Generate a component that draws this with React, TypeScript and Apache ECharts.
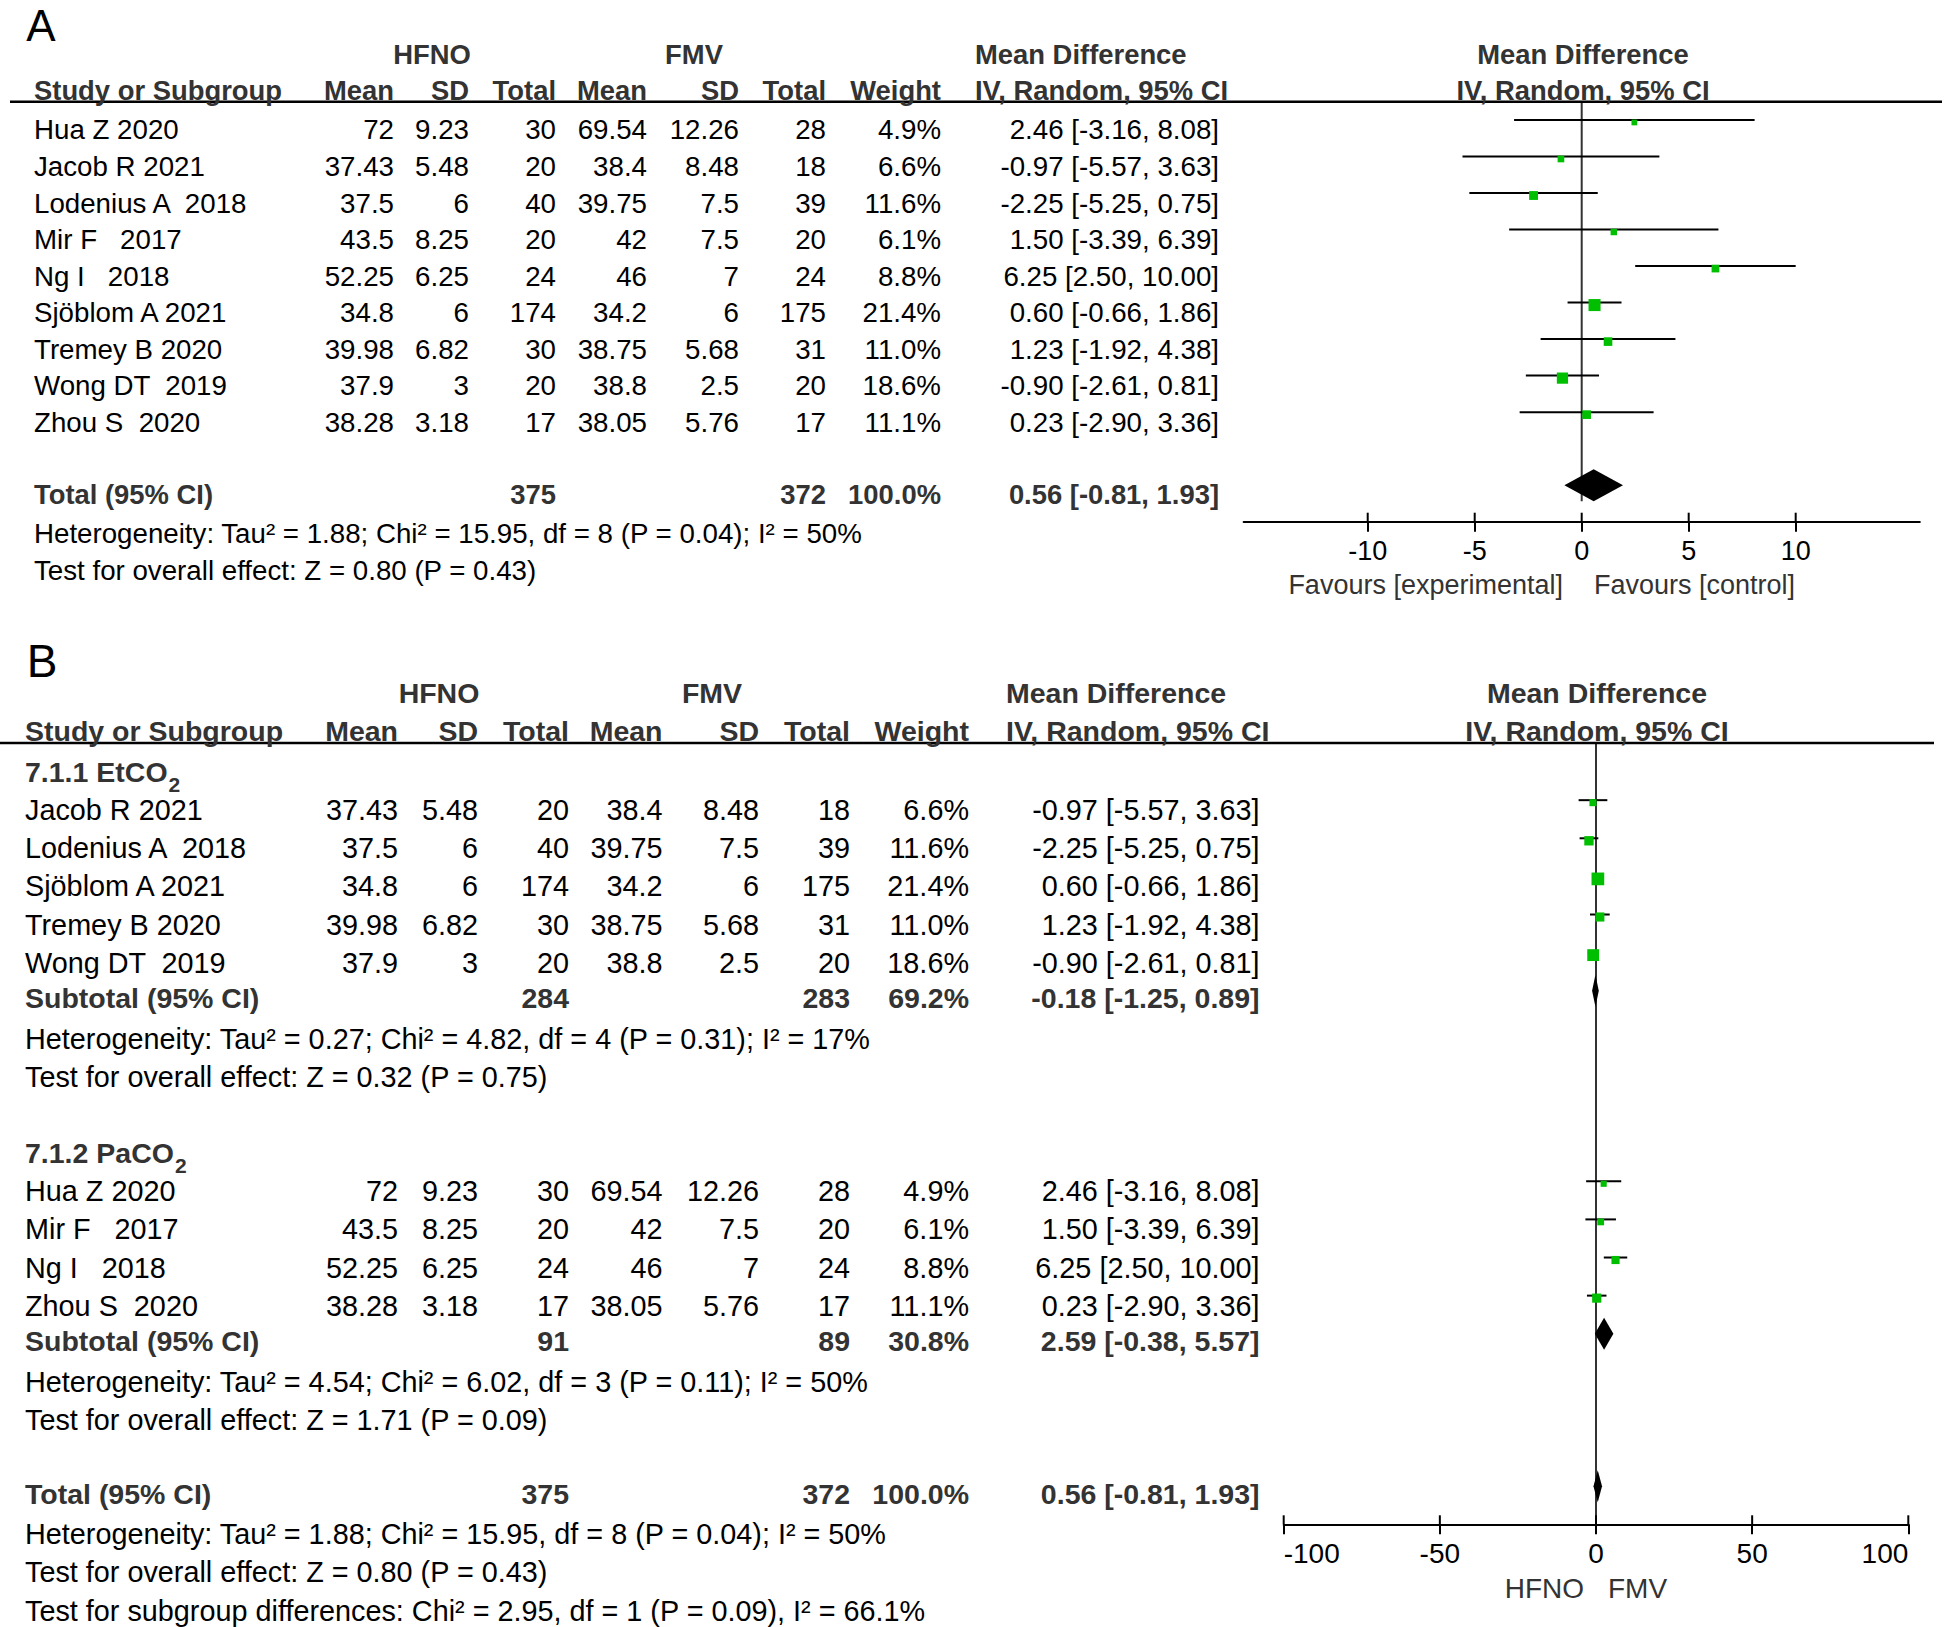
import React, { useEffect, useRef } from 'react';
import * as echarts from 'echarts';

// ---------------- DATA ----------------
const studyNames = ['Hua Z 2020', 'Jacob R 2021', 'Lodenius A  2018', 'Mir F   2017', 'Ng I   2018', 'Sjöblom A 2021', 'Tremey B 2020', 'Wong DT  2019', 'Zhou S  2020'];
const hfnoMean = [72, 37.43, 37.5, 43.5, 52.25, 34.8, 39.98, 37.9, 38.28];
const hfnoSD = [9.23, 5.48, 6, 8.25, 6.25, 6, 6.82, 3, 3.18];
const hfnoN = [30, 20, 40, 20, 24, 174, 30, 20, 17];
const fmvMean = [69.54, 38.4, 39.75, 42, 46, 34.2, 38.75, 38.8, 38.05];
const fmvSD = [12.26, 8.48, 7.5, 7.5, 7, 6, 5.68, 2.5, 5.76];
const fmvN = [28, 18, 39, 20, 24, 175, 31, 20, 17];
const weights = [4.9, 6.6, 11.6, 6.1, 8.8, 21.4, 11.0, 18.6, 11.1];
const mdValues = [2.46, -0.97, -2.25, 1.5, 6.25, 0.6, 1.23, -0.9, 0.23];
const ciLow = [-3.16, -5.57, -5.25, -3.39, 2.5, -0.66, -1.92, -2.61, -2.9];
const ciHigh = [8.08, 3.63, 0.75, 6.39, 10.0, 1.86, 4.38, 0.81, 3.36];

// subgroups (indices into the study arrays)
const etco2Order = [1, 2, 5, 6, 7];
const paco2Order = [0, 3, 4, 8];

// summary rows: [EtCO2 subtotal, PaCO2 subtotal, overall total]
const summaryNames = ['Subtotal (95% CI)', 'Subtotal (95% CI)', 'Total (95% CI)'];
const summaryHfnoN = [284, 91, 375];
const summaryFmvN = [283, 89, 372];
const summaryWeight = [69.2, 30.8, 100.0];
const summaryMd = [-0.18, 2.59, 0.56];
const summaryLo = [-1.25, -0.38, -0.81];
const summaryHi = [0.89, 5.57, 1.93];

const hetEt = 'Heterogeneity: Tau² = 0.27; Chi² = 4.82, df = 4 (P = 0.31); I² = 17%';
const testEt = 'Test for overall effect: Z = 0.32 (P = 0.75)';
const hetPa = 'Heterogeneity: Tau² = 4.54; Chi² = 6.02, df = 3 (P = 0.11); I² = 50%';
const testPa = 'Test for overall effect: Z = 1.71 (P = 0.09)';
const hetAll = 'Heterogeneity: Tau² = 1.88; Chi² = 15.95, df = 8 (P = 0.04); I² = 50%';
const testAll = 'Test for overall effect: Z = 0.80 (P = 0.43)';
const testSub = 'Test for subgroup differences: Chi² = 2.95, df = 1 (P = 0.09), I² = 66.1%';

const ticksA = [-10, -5, 0, 5, 10];
const ticksB = [-100, -50, 0, 50, 100];

// ---------------- LAYOUT ----------------
const FONT = '"Liberation Sans", Arial, sans-serif';
const GA = { left: 1243.6, top: 101.7, width: 676.2, height: 420, xMin: -15.8, xMax: 15.8, yMin: -0.5, yMax: 11 };
const GB = { left: 1283.7, top: 743, width: 624.6, height: 781.3, xMin: -100, xMax: 100, yMin: -1.5, yMax: 19 };
const rowY = (g: any, r: number) => g.top + ((r - g.yMin) * g.height) / (g.yMax - g.yMin);
const DIAMOND_HALF = 16;

const SIZE_A = 27.7;
const BOLD_A = 27.4;
const SIZE_B = 28.8;
const BOLD_B = 28.5;
const SUB_SIZE = 21;

const colsA = { name: 34, hMean: 394, hSD: 469, hN: 556, fMean: 647, fSD: 739, fN: 826, weight: 941, ci: 1219, md: 975, plotC: 1583 };
const colsB = { name: 25, hMean: 398, hSD: 478, hN: 569, fMean: 662.5, fSD: 759, fN: 850, weight: 969, ci: 1259.5, md: 1006, plotC: 1597 };

const fmtCI = (m: number, l: number, h: number) => `${m.toFixed(2)} [${l.toFixed(2)}, ${h.toFixed(2)}]`;

function T(text: string, x: number, y: number, size: number, opts: any = {}) {
  const align = opts.align || 'left';
  return {
    type: 'text',
    x,
    y,
    silent: true,
    z: 10,
    style: {
      text,
      fill: opts.fill || '#000',
      fontSize: size,
      fontFamily: FONT,
      fontWeight: opts.bold ? 'bold' : 'normal',
      align,
      verticalAlign: 'middle',
      textAlign: align,
      textVerticalAlign: 'middle',
    },
  };
}

function studyTexts(out: any[], c: any, i: number, y: number, size: number) {
  out.push(T(studyNames[i], c.name, y, size));
  out.push(T(String(hfnoMean[i]), c.hMean, y, size, { align: 'right' }));
  out.push(T(String(hfnoSD[i]), c.hSD, y, size, { align: 'right' }));
  out.push(T(String(hfnoN[i]), c.hN, y, size, { align: 'right' }));
  out.push(T(String(fmvMean[i]), c.fMean, y, size, { align: 'right' }));
  out.push(T(String(fmvSD[i]), c.fSD, y, size, { align: 'right' }));
  out.push(T(String(fmvN[i]), c.fN, y, size, { align: 'right' }));
  out.push(T(weights[i].toFixed(1) + '%', c.weight, y, size, { align: 'right' }));
  out.push(T(fmtCI(mdValues[i], ciLow[i], ciHigh[i]), c.ci, y, size, { align: 'right' }));
}

function summaryTexts(out: any[], c: any, k: number, y: number, size: number) {
  const o = { bold: true, fill: '#333' };
  out.push(T(summaryNames[k], c.name, y, size, o));
  out.push(T(String(summaryHfnoN[k]), c.hN, y, size, { ...o, align: 'right' }));
  out.push(T(String(summaryFmvN[k]), c.fN, y, size, { ...o, align: 'right' }));
  out.push(T(summaryWeight[k].toFixed(1) + '%', c.weight, y, size, { ...o, align: 'right' }));
  out.push(T(fmtCI(summaryMd[k], summaryLo[k], summaryHi[k]), c.ci, y, size, { ...o, align: 'right' }));
}

function headerTexts(out: any[], c: any, y1: number, y2: number, size: number, hfnoX: number, fmvX: number) {
  const o = { bold: true, fill: '#333' };
  out.push(T('HFNO', hfnoX, y1, size, { ...o, align: 'center' }));
  out.push(T('FMV', fmvX, y1, size, { ...o, align: 'center' }));
  out.push(T('Mean Difference', c.md, y1, size, o));
  out.push(T('Mean Difference', c.plotC, y1, size, { ...o, align: 'center' }));
  out.push(T('Study or Subgroup', c.name, y2, size, o));
  out.push(T('Mean', c.hMean, y2, size, { ...o, align: 'right' }));
  out.push(T('SD', c.hSD, y2, size, { ...o, align: 'right' }));
  out.push(T('Total', c.hN, y2, size, { ...o, align: 'right' }));
  out.push(T('Mean', c.fMean, y2, size, { ...o, align: 'right' }));
  out.push(T('SD', c.fSD, y2, size, { ...o, align: 'right' }));
  out.push(T('Total', c.fN, y2, size, { ...o, align: 'right' }));
  out.push(T('Weight', c.weight, y2, size, { ...o, align: 'right' }));
  out.push(T('IV, Random, 95% CI', c.md, y2, size, o));
  out.push(T('IV, Random, 95% CI', c.plotC, y2, size, { ...o, align: 'center' }));
}

function studySeries(gridIdx: number, rows: number[], idxs: number[], k: number) {
  return {
    type: 'custom',
    xAxisIndex: gridIdx,
    yAxisIndex: gridIdx,
    z: 3,
    silent: true,
    encode: { x: [0, 1, 2], y: 4 },
    data: idxs.map((si, j) => [mdValues[si], ciLow[si], ciHigh[si], weights[si], rows[j]]),
    renderItem: (params: any, api: any) => {
      const row = api.value(4);
      const pL = api.coord([api.value(1), row]);
      const pR = api.coord([api.value(2), row]);
      const pM = api.coord([api.value(0), row]);
      const s = k * Math.sqrt(api.value(3));
      return {
        type: 'group',
        children: [
          { type: 'line', shape: { x1: pL[0], y1: pL[1], x2: pR[0], y2: pR[1] }, style: { stroke: '#000', lineWidth: 2 } },
          { type: 'rect', shape: { x: pM[0] - s / 2, y: pM[1] + 2.5 - s / 2, width: s, height: s }, style: { fill: '#00bf00' } },
        ],
      };
    },
  };
}

function diamondSeries(gridIdx: number, rows: number[], ks: number[]) {
  return {
    type: 'custom',
    xAxisIndex: gridIdx,
    yAxisIndex: gridIdx,
    z: 4,
    silent: true,
    encode: { x: [0, 1, 2], y: 3 },
    data: ks.map((k, j) => [summaryMd[k], summaryLo[k], summaryHi[k], rows[j]]),
    renderItem: (params: any, api: any) => {
      const row = api.value(3);
      const pL = api.coord([api.value(1), row]);
      const pR = api.coord([api.value(2), row]);
      const pM = api.coord([api.value(0), row]);
      return {
        type: 'polygon',
        shape: { points: [[pL[0], pL[1]], [pM[0], pM[1] - DIAMOND_HALF], [pR[0], pR[1]], [pM[0], pM[1] + DIAMOND_HALF]] },
        style: { fill: '#000' },
      };
    },
  };
}

function zeroLine(gridIdx: number, from: number, to: number) {
  return {
    type: 'line',
    xAxisIndex: gridIdx,
    yAxisIndex: gridIdx,
    z: 1,
    silent: true,
    symbol: 'none',
    lineStyle: { color: '#333', width: 2 },
    data: [[0, from], [0, to]],
  };
}

function upTicks(gridIdx: number, ticks: number[], yMax: number) {
  return {
    type: 'custom',
    xAxisIndex: gridIdx,
    yAxisIndex: gridIdx,
    z: 2,
    silent: true,
    encode: { x: 0, y: 1 },
    data: ticks.map((v) => [v, yMax]),
    renderItem: (params: any, api: any) => {
      const p = api.coord([api.value(0), api.value(1)]);
      return { type: 'line', shape: { x1: p[0], y1: p[1] - 9, x2: p[0], y2: p[1] }, style: { stroke: '#000', lineWidth: 2 } };
    },
  };
}

function buildOption() {
  const g: any[] = [];

  // ---- Panel A ----
  g.push(T('A', 41, 25.5, 44, { align: 'center' }));
  headerTexts(g, colsA, 54, 90, BOLD_A, 432, 694);
  g.push({ type: 'line', silent: true, z: 5, shape: { x1: 10, y1: 101.7, x2: 1942, y2: 101.7 }, style: { stroke: '#000', lineWidth: 2.5 } });
  const rowsA = studyNames.map((_, i) => i);
  rowsA.forEach((r, i) => studyTexts(g, colsA, i, rowY(GA, r) + 10, SIZE_A));
  const totalRowA = 10;
  summaryTexts(g, colsA, 2, rowY(GA, totalRowA) + 9, BOLD_A);
  g.push(T(hetAll, colsA.name, rowY(GA, 11) + 12, SIZE_A));
  g.push(T(testAll, colsA.name, rowY(GA, 12) + 12, SIZE_A));
  g.push(T('Favours [experimental]', 1563, 584.5, 27, { align: 'right', fill: '#333' }));
  g.push(T('Favours [control]', 1594, 584.5, 27, { fill: '#333' }));

  // ---- Panel B ----
  g.push(T('B', 42, 661, 46, { align: 'center' }));
  headerTexts(g, colsB, 693, 731, BOLD_B, 439, 712);
  g.push({ type: 'line', silent: true, z: 5, shape: { x1: 0, y1: 743, x2: 1934, y2: 743 }, style: { stroke: '#000', lineWidth: 2.5 } });
  const o = { bold: true, fill: '#333' };
  g.push(T('7.1.1 EtCO', colsB.name, rowY(GB, -1) + 10, BOLD_B, o));
  g.push(T('2', 168.5, rowY(GB, -1) + 22, SUB_SIZE, o));
  const rowsEt = etco2Order.map((_, j) => j);
  etco2Order.forEach((si, j) => studyTexts(g, colsB, si, rowY(GB, rowsEt[j]) + 10, SIZE_B));
  summaryTexts(g, colsB, 0, rowY(GB, 5) + 7, BOLD_B);
  g.push(T(hetEt, colsB.name, rowY(GB, 6) + 10, SIZE_B));
  g.push(T(testEt, colsB.name, rowY(GB, 7) + 10, SIZE_B));
  g.push(T('7.1.2 PaCO', colsB.name, rowY(GB, 9) + 10, BOLD_B, o));
  g.push(T('2', 175, rowY(GB, 9) + 22, SUB_SIZE, o));
  const rowsPa = paco2Order.map((_, j) => 10 + j);
  paco2Order.forEach((si, j) => studyTexts(g, colsB, si, rowY(GB, rowsPa[j]) + 10, SIZE_B));
  summaryTexts(g, colsB, 1, rowY(GB, 14) + 7, BOLD_B);
  g.push(T(hetPa, colsB.name, rowY(GB, 15) + 10, SIZE_B));
  g.push(T(testPa, colsB.name, rowY(GB, 16) + 10, SIZE_B));
  summaryTexts(g, colsB, 2, rowY(GB, 18) + 8, BOLD_B);
  g.push(T(hetAll, colsB.name, rowY(GB, 19) + 10, SIZE_B));
  g.push(T(testAll, colsB.name, rowY(GB, 20) + 10, SIZE_B));
  g.push(T(testSub, colsB.name, rowY(GB, 21) + 10, SIZE_B));
  g.push(T('HFNO', 1584, 1588.6, 28, { align: 'right', fill: '#333' }));
  g.push(T('FMV', 1608, 1588.6, 28, { fill: '#333' }));

  const axisCommon = (size: number) => ({
    type: 'value',
    axisLine: { show: true, onZero: false, lineStyle: { color: '#000', width: 2 } },
    splitLine: { show: false },
    axisLabel: { color: '#000', fontSize: size, fontFamily: FONT, margin: 15, showMinLabel: true, showMaxLabel: true },
    axisTick: { show: true, length: 10, lineStyle: { color: '#000', width: 2 } },
  });

  const xA: any = axisCommon(27);
  xA.gridIndex = 0;
  xA.min = GA.xMin;
  xA.max = GA.xMax;
  xA.axisLabel.customValues = ticksA;
  xA.axisLabel.margin = 16;
  xA.axisTick.customValues = ticksA;

  const xB: any = axisCommon(28);
  xB.gridIndex = 1;
  xB.min = GB.xMin;
  xB.max = GB.xMax;
  xB.interval = 50;
  xB.axisLabel.customValues = ticksB;
  xB.axisLabel.alignMinLabel = 'left';
  xB.axisLabel.alignMaxLabel = 'right';
  xB.axisTick.customValues = ticksB;

  return {
    animation: false,
    backgroundColor: '#fff',
    grid: [
      { left: GA.left, top: GA.top, width: GA.width, height: GA.height, containLabel: false },
      { left: GB.left, top: GB.top, width: GB.width, height: GB.height, containLabel: false },
    ],
    xAxis: [xA, xB],
    yAxis: [
      { type: 'value', gridIndex: 0, min: GA.yMin, max: GA.yMax, inverse: true, show: false },
      { type: 'value', gridIndex: 1, min: GB.yMin, max: GB.yMax, inverse: true, show: false },
    ],
    series: [
      zeroLine(0, GA.yMin, totalRowA + DIAMOND_HALF / (GA.height / (GA.yMax - GA.yMin))),
      studySeries(0, rowsA, studyNames.map((_, i) => i), 2.6),
      diamondSeries(0, [totalRowA], [2]),
      upTicks(0, ticksA, GA.yMax),
      zeroLine(1, GB.yMin, GB.yMax),
      studySeries(1, rowsEt, etco2Order, 2.75),
      studySeries(1, rowsPa, paco2Order, 2.75),
      diamondSeries(1, [5, 14, 18], [0, 1, 2]),
      upTicks(1, ticksB, GB.yMax),
    ],
    graphic: { elements: g },
  };
}

export default function App() {
  const ref = useRef<HTMLDivElement>(null);
  useEffect(() => {
    document.body.style.margin = '0';
    const chart = echarts.init(ref.current as HTMLDivElement, null, { renderer: 'svg' });
    chart.setOption(buildOption() as any);
    return () => chart.dispose();
  }, []);
  return <div ref={ref} style={{ position: 'absolute', left: 0, top: 0, width: 1952, height: 1627, background: '#fff' }} />;
}
